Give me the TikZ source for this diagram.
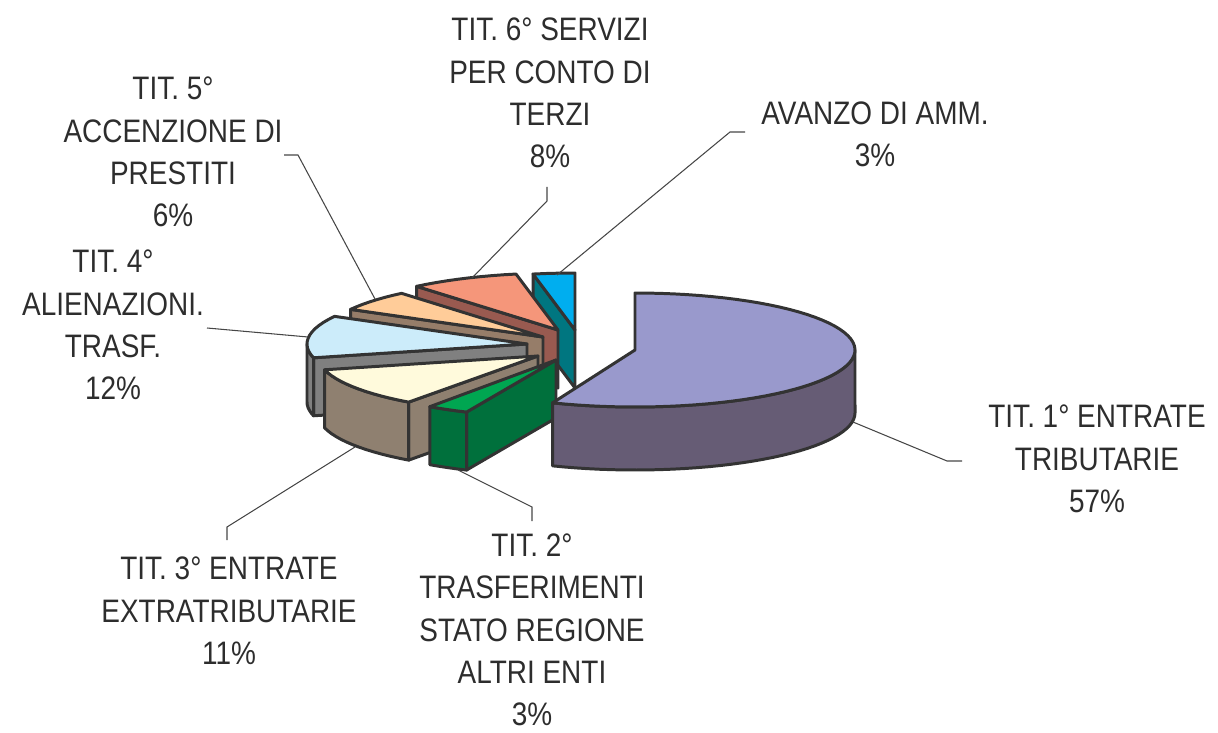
\documentclass[tikz,border=0pt]{standalone}
\usepackage{fontspec}
\setmainfont{Liberation Sans}[FakeStretch=0.86]

\definecolor{outline}{RGB}{51,51,51}
\definecolor{labeltext}{RGB}{45,45,45}
\definecolor{leadergrey}{RGB}{70,70,70}
\definecolor{tribtop}{RGB}{153,153,204}
\definecolor{tribside}{RGB}{102,92,117}
\definecolor{trasftop}{RGB}{0,166,81}
\definecolor{trasfside}{RGB}{0,112,60}
\definecolor{extratop}{RGB}{255,250,220}
\definecolor{extraside}{RGB}{143,128,112}
\definecolor{alientop}{RGB}{204,236,250}
\definecolor{alienside}{RGB}{128,128,128}
\definecolor{prestop}{RGB}{255,204,153}
\definecolor{presside}{RGB}{150,125,105}
\definecolor{servtop}{RGB}{245,150,122}
\definecolor{servside}{RGB}{153,90,80}
\definecolor{avtop}{RGB}{0,174,239}
\definecolor{avside}{RGB}{0,118,128}

\tikzset{
  slice/.style={draw=outline,line width=1.7pt,line join=round},
  lbl/.style={align=center,text=labeltext,font=\fontsize{18.5}{24.1}\selectfont},
  leader/.style={draw=leadergrey,line width=0.6pt}
}

\begin{document}
\begin{tikzpicture}[x=0.02cm,y=0.02cm]
\useasboundingbox (0,0) rectangle (1218,-733);

% avanzo di amministrazione
\filldraw[slice,fill=avside] (575,-330) -- ({575+220*cos(101)},{-330+57*sin(101)}) -- ++(0,-58) -- (575,-388) -- cycle;
\filldraw[slice,fill=avtop] (575,-330) -- plot[domain=90:101,samples=4] ({575+220*cos(\x)},{-330+57*sin(\x)}) -- cycle;

% tit. 6
\filldraw[slice,fill=servside] (558,-330) -- ({558+220*cos(130)},{-330+57*sin(130)}) -- ++(0,-58) -- (558,-388) -- cycle;
\filldraw[slice,fill=servtop] (558,-330) -- plot[domain=101:130,samples=10] ({558+220*cos(\x)},{-330+57*sin(\x)}) -- cycle;

% tit. 5
\filldraw[slice,fill=presside] (543,-337) -- ({543+220*cos(151)},{-337+57*sin(151)}) -- ++(0,-58) -- (543,-395) -- cycle;
\filldraw[slice,fill=prestop] (543,-337) -- plot[domain=130:151,samples=8] ({543+220*cos(\x)},{-337+57*sin(\x)}) -- cycle;

% tit. 4
\filldraw[slice,fill=alienside] (527,-344) -- ({527+220*cos(194)},{-344+57*sin(194)}) -- ++(0,-58) -- (527,-402) -- cycle;
\filldraw[slice,fill=alienside] plot[domain=180:194,samples=6] ({527+220*cos(\x)},{-344+57*sin(\x)}) -- plot[domain=194:180,samples=6] ({527+220*cos(\x)},{-402+57*sin(\x)}) -- cycle;
\filldraw[slice,fill=alientop] (527,-344) -- plot[domain=151:194,samples=14] ({527+220*cos(\x)},{-344+57*sin(\x)}) -- cycle;

% tit. 3
\filldraw[slice,fill=extraside] (538,-356) -- ({538+220*cos(234)},{-356+57*sin(234)}) -- ++(0,-58) -- (538,-414) -- cycle;
\filldraw[slice,fill=extraside] plot[domain=194:234,samples=14] ({538+220*cos(\x)},{-356+57*sin(\x)}) -- plot[domain=234:194,samples=14] ({538+220*cos(\x)},{-414+57*sin(\x)}) -- cycle;
\filldraw[slice,fill=extratop] (538,-356) -- plot[domain=194:234,samples=14] ({538+220*cos(\x)},{-356+57*sin(\x)}) -- cycle;

% tit. 2
\filldraw[slice,fill=trasfside] (556,-360) -- ({556+220*cos(246)},{-360+57*sin(246)}) -- ++(0,-58) -- (556,-418) -- cycle;
\filldraw[slice,fill=trasfside] plot[domain=235:246,samples=5] ({556+220*cos(\x)},{-360+57*sin(\x)}) -- plot[domain=246:235,samples=5] ({556+220*cos(\x)},{-418+57*sin(\x)}) -- cycle;
\filldraw[slice,fill=trasftop] (556,-360) -- plot[domain=235:246,samples=5] ({556+220*cos(\x)},{-360+57*sin(\x)}) -- cycle;

% tit. 1
\filldraw[slice,fill=tribside] plot[domain=-112:0,samples=36] ({635+220*cos(\x)},{-350+57*sin(\x)}) -- plot[domain=0:-112,samples=36] ({635+220*cos(\x)},{-413+57*sin(\x)}) -- cycle;
\filldraw[slice,fill=tribtop] (635,-350) -- plot[domain=-112:90,samples=60] ({635+220*cos(\x)},{-350+57*sin(\x)}) -- cycle;

% labels
\node[lbl] (tit1) at (1097,-459) {TIT. 1° ENTRATE\\TRIBUTARIE\\57\%};
\node[lbl] (tit2) at (532,-630) {TIT. 2°\\TRASFERIMENTI\\STATO REGIONE\\ALTRI ENTI\\3\%};
\node[lbl] (tit3) at (229,-611) {TIT. 3° ENTRATE\\EXTRATRIBUTARIE\\11\%};
\node[lbl] (tit4) at (113,-325) {TIT. 4°\\ALIENAZIONI.\\TRASF.\\12\%};
\node[lbl] (tit5) at (173,-152) {TIT. 5°\\ACCENZIONE DI\\PRESTITI\\6\%};
\node[lbl] (tit6) at (550,-93) {TIT. 6° SERVIZI\\PER CONTO DI\\TERZI\\8\%};
\node[lbl] (avanzo) at (875,-134) {AVANZO DI AMM.\\3\%};

% leader lines
\coordinate (tit1pie) at (853,-422);
\coordinate (tit1bend) at (947,-461);
\coordinate (tit1end) at (962,-461);
\coordinate (tit2pie) at (458,-470);
\coordinate (tit2bend) at (532,-507);
\coordinate (tit2end) at (532,-521);
\coordinate (tit3pie) at (355,-447);
\coordinate (tit3bend) at (227,-527);
\coordinate (tit3end) at (227,-540);
\coordinate (tit4pie) at (308,-337);
\coordinate (tit4end) at (207,-328);
\coordinate (tit5pie) at (375,-299);
\coordinate (tit5bend) at (298,-155);
\coordinate (tit5end) at (284,-155);
\coordinate (tit6pie) at (472,-278);
\coordinate (tit6bend) at (547,-201);
\coordinate (tit6end) at (547,-187);
\coordinate (avpie) at (557,-275);
\coordinate (avbend) at (730,-132);
\coordinate (avend) at (745,-132);

\draw[leader] (tit1pie) -- (tit1bend) -- (tit1end);
\draw[leader] (tit2pie) -- (tit2bend) -- (tit2end);
\draw[leader] (tit3pie) -- (tit3bend) -- (tit3end);
\draw[leader] (tit4pie) -- (tit4end);
\draw[leader] (tit5pie) -- (tit5bend) -- (tit5end);
\draw[leader] (tit6pie) -- (tit6bend) -- (tit6end);
\draw[leader] (avpie) -- (avbend) -- (avend);
\end{tikzpicture}
\end{document}
